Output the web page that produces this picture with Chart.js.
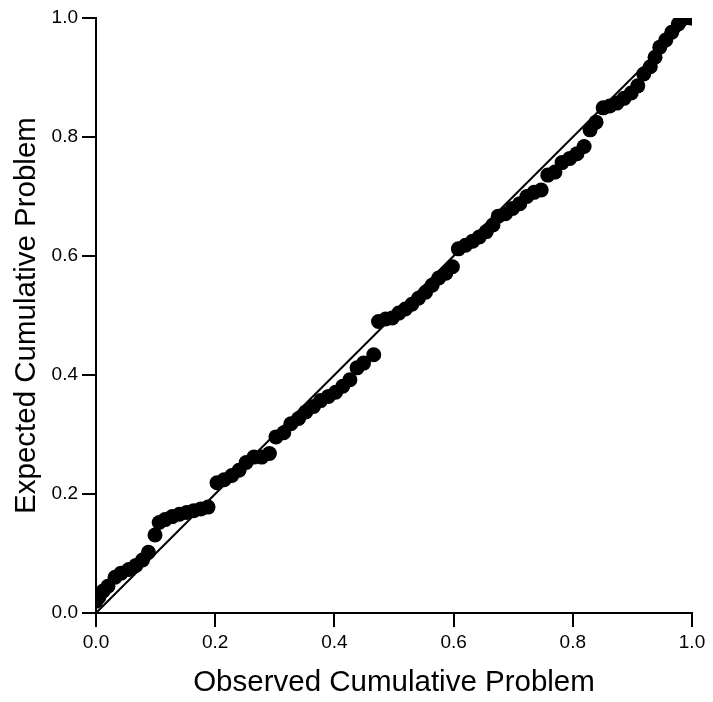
<!DOCTYPE html>
<html>
<head>
<meta charset="utf-8">
<script src="https://cdn.jsdelivr.net/npm/chart.js@4/dist/chart.umd.min.js"></script>
<style>
  html, body { margin: 0; padding: 0; background: #fff; }
  #wrap { width: 713px; height: 702px; }
</style>
</head>
<body>
<div id="wrap"><canvas id="ppPlot" width="713" height="702"></canvas></div>
<script>
// observed vs expected cumulative probability
var observed = [
  0.000, 0.005, 0.012, 0.020, 0.032, 0.042, 0.055, 0.067, 0.078, 0.088,
  0.099, 0.106, 0.116, 0.128, 0.140, 0.152, 0.164, 0.176, 0.188, 0.203,
  0.215, 0.228, 0.240, 0.252, 0.265, 0.278, 0.291, 0.302, 0.315, 0.327,
  0.340, 0.352, 0.365, 0.377, 0.390, 0.402, 0.414, 0.426, 0.438, 0.449,
  0.466, 0.474, 0.486, 0.497, 0.508, 0.519, 0.530, 0.541, 0.553, 0.564,
  0.575, 0.587, 0.598, 0.608, 0.620, 0.632, 0.643, 0.655, 0.666, 0.675,
  0.687, 0.699, 0.711, 0.723, 0.735, 0.747, 0.758, 0.770, 0.782, 0.795,
  0.807, 0.819, 0.829, 0.839, 0.851, 0.862, 0.874, 0.886, 0.898, 0.909,
  0.919, 0.930, 0.938, 0.946, 0.956, 0.966, 0.977, 0.988, 0.998
];
var expected = [
  0.020, 0.027, 0.037, 0.045, 0.060, 0.067, 0.073, 0.080, 0.089, 0.102,
  0.131, 0.152, 0.157, 0.162, 0.166, 0.169, 0.172, 0.175, 0.178, 0.219,
  0.224, 0.231, 0.240, 0.253, 0.262, 0.262, 0.268, 0.296, 0.303, 0.318,
  0.327, 0.338, 0.347, 0.357, 0.364, 0.371, 0.381, 0.392, 0.412, 0.420,
  0.434, 0.490, 0.494, 0.496, 0.504, 0.511, 0.519, 0.529, 0.539, 0.551,
  0.563, 0.571, 0.582, 0.612, 0.618, 0.625, 0.632, 0.641, 0.652, 0.667,
  0.671, 0.680, 0.688, 0.700, 0.707, 0.711, 0.736, 0.741, 0.757, 0.764,
  0.772, 0.784, 0.812, 0.825, 0.849, 0.852, 0.857, 0.865, 0.874, 0.886,
  0.906, 0.918, 0.934, 0.951, 0.963, 0.976, 0.990, 1.000, 1.000
];
// reference diagonal
var refLine = [0, 1];
var tickValues = [0, 0.2, 0.4, 0.6, 0.8, 1.0];

var puntos = [];
for (var i = 0; i < observed.length; i++) {
  puntos.push({ x: observed[i], y: expected[i] });
}
var linea = refLine.map(function (v) { return { x: v, y: v }; });

var fuente = "'Liberation Sans', Arial, sans-serif";

function ejeComun(titulo, pad) {
  return {
    type: 'linear',
    min: 0,
    max: 1,
    afterBuildTicks: function (axis) {
      axis.ticks = tickValues.map(function (v) { return { value: v }; });
    },
    ticks: {
      color: '#000',
      padding: 4,
      font: { family: fuente, size: 19 },
      callback: function (v) { return Number(v).toFixed(1); }
    },
    grid: {
      display: true,
      drawOnChartArea: false,
      drawTicks: true,
      tickLength: 14,
      color: '#000',
      lineWidth: 2
    },
    border: { display: true, color: '#000', width: 2 },
    title: {
      display: true,
      text: titulo,
      color: '#000',
      padding: pad,
      font: { family: fuente, size: 29.5 }
    }
  };
}

var ejeX = ejeComun('Observed Cumulative Problem', { top: 0, bottom: 1 });
ejeX.position = 'bottom';
ejeX.afterFit = function (axis) { axis.height = 89; };

var ejeY = ejeComun('Expected Cumulative Problem', { top: 9, bottom: 0 });
ejeY.position = 'left';
ejeY.afterFit = function (axis) { axis.width = 96; };

var lienzo = document.getElementById('ppPlot').getContext('2d');
var grafico = new Chart(lienzo, {
  type: 'scatter',
  data: {
    datasets: [
      {
        label: 'diagonal',
        data: linea,
        showLine: true,
        borderColor: '#000',
        borderWidth: 2,
        pointRadius: 0,
        order: 0
      },
      {
        label: 'puntos',
        data: puntos,
        backgroundColor: '#000',
        borderColor: '#000',
        pointRadius: 7.5,
        pointBorderWidth: 0,
        order: 1
      }
    ]
  },
  options: {
    responsive: false,
    animation: false,
    layout: { padding: { top: 18, right: 21, left: 0, bottom: 0 } },
    plugins: {
      legend: { display: false },
      tooltip: { enabled: false }
    },
    scales: { x: ejeX, y: ejeY }
  }
});
</script>
</body>
</html>
